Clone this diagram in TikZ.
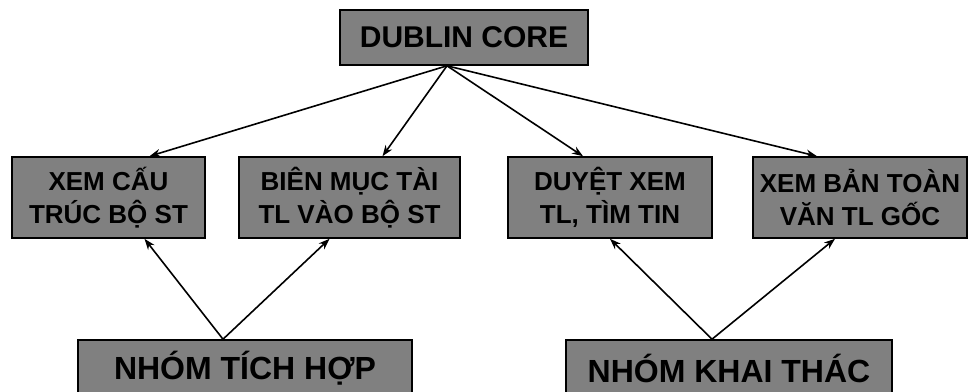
\documentclass[tikz,border=0pt]{standalone}
\usepackage{fontspec}
\setmainfont{Liberation Sans}
\usetikzlibrary{arrows.meta}

\begin{document}
\begin{tikzpicture}[x=1pt,y=-1pt,
    box/.style={draw=black, line width=1.6pt, fill=black!50, text=black,
      align=center, inner sep=0pt},
    link/.style={-{Stealth[length=11pt,width=8pt]}, line width=1.6pt}]
        \useasboundingbox (0,0) rectangle (968,391);
        %% top
        \node[box, minimum width=248, minimum height=55,
          font=\fontsize{30}{32}\selectfont\bfseries] (dublin) at (464,37.5) {DUBLIN CORE};
        %% middle row
        \node[box, minimum width=193, minimum height=81,
          font=\fontsize{26}{33}\selectfont\bfseries] (xemcau) at (108.5,197.5) {XEM CẤU\\TRÚC BỘ ST};
        \node[box, minimum width=221, minimum height=81,
          font=\fontsize{26}{33}\selectfont\bfseries] (bienmuc) at (349.5,197.5) {BIÊN MỤC TÀI\\TL VÀO BỘ ST};
        \node[box, minimum width=204, minimum height=81,
          font=\fontsize{26}{33}\selectfont\bfseries] (duyet) at (610,197.5) {DUYỆT XEM\\TL, TÌM TIN};
        \node[box, minimum width=214, minimum height=81,
          font=\fontsize{26}{33}\selectfont\bfseries] (toanvan) at (860,197.5) {XEM BẢN TOÀN\\VĂN TL GỐC};
        %% bottom row
        \node[box, minimum width=334, minimum height=56,
          font=\fontsize{32}{34}\selectfont\bfseries] (tichhop) at (245,368) {NHÓM TÍCH HỢP};
        \node[box, minimum width=326, minimum height=56,
          font=\fontsize{32}{34}\selectfont\bfseries] (khaithac) at (729,368) {NHÓM KHAI THÁC};
        %% arrows
        \draw[link] ([xshift=-17]dublin.south) -- ([xshift=41]xemcau.north);
        \draw[link] ([xshift=-17]dublin.south) -- ([xshift=33]bienmuc.north);
        \draw[link] ([xshift=-17]dublin.south) -- ([xshift=-27]duyet.north);
        \draw[link] ([xshift=-17]dublin.south) -- ([xshift=-43]toanvan.north);
        \draw[link] ([xshift=-22]tichhop.north) -- ([xshift=36]xemcau.south);
        \draw[link] ([xshift=-22]tichhop.north) -- ([xshift=-20]bienmuc.south);
        \draw[link] ([xshift=-17]khaithac.north) -- (duyet.south);
        \draw[link] ([xshift=-17]khaithac.north) -- ([xshift=-25]toanvan.south);
      \end{tikzpicture}
\end{document}
